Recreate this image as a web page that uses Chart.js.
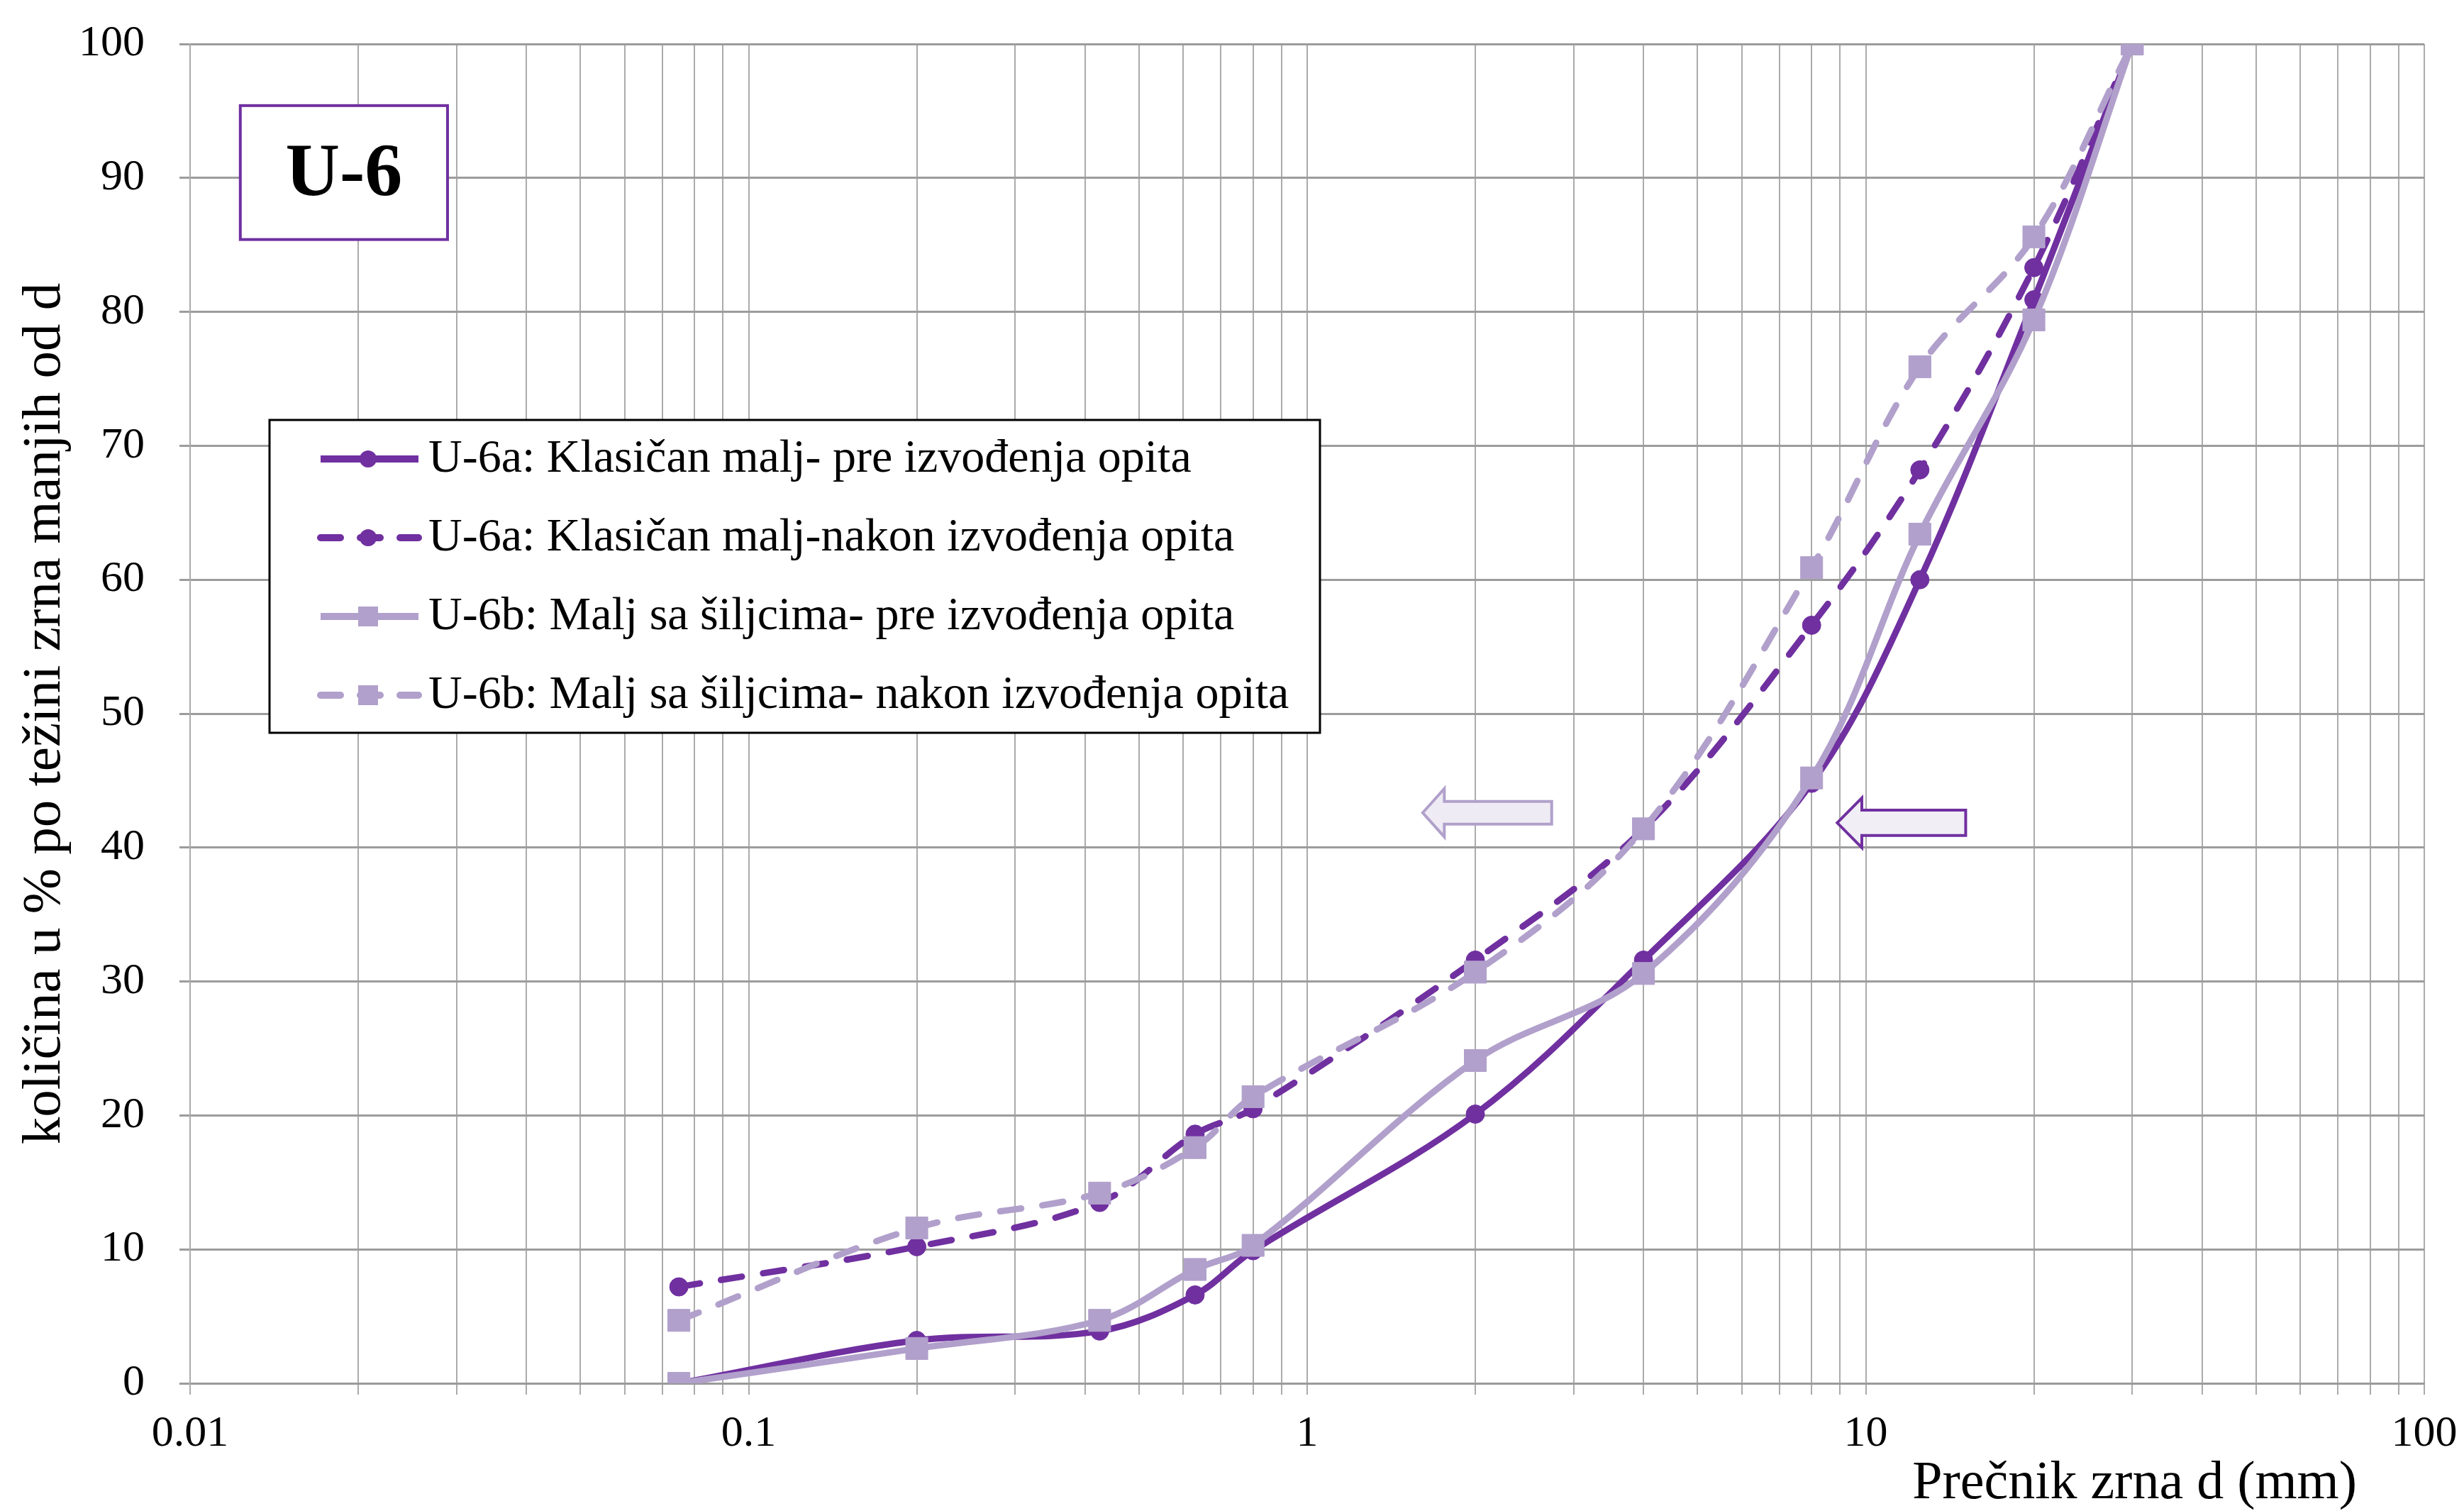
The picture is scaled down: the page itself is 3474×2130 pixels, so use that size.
<!DOCTYPE html>
<html>
<head>
<meta charset="utf-8">
<script src="https://cdn.jsdelivr.net/npm/chart.js@4.4.1/dist/chart.umd.min.js"></script>
<style>
  html, body { margin: 0; padding: 0; background: #ffffff; }
  #wrap { width: 3474px; height: 2130px; position: relative; }
  canvas { display: block; }
</style>
</head>
<body>
<div id="wrap"><canvas id="c" width="3474" height="2130"></canvas></div>
<script>
// ---------- DATA ----------
const sieveSizes = [0.075, 0.2, 0.425, 0.63, 0.8, 2, 4, 8, 12.5, 20, 30];
const seriesLabels = [
  'U-6a: Klasičan malj- pre izvođenja opita',
  'U-6a: Klasičan malj-nakon izvođenja opita',
  'U-6b: Malj sa šiljcima- pre izvođenja opita',
  'U-6b: Malj sa šiljcima- nakon izvođenja opita'
];
const u6aPre  = [0,   3.2, 3.9,  6.6,  9.9,  20.1, 31.6, 44.8, 60.0, 80.9, 100];
const u6aPost = [7.2, 10.2, 13.5, 18.6, 20.5, 31.6, 41.4, 56.6, 68.2, 83.3, 100];
const u6bPre  = [0,   2.6, 4.7,  8.5,  10.3, 24.1, 30.6, 45.2, 63.4, 79.4, 100];
const u6bPost = [4.7, 11.6, 14.2, 17.6, 21.4, 30.7, 41.4, 60.9, 75.9, 85.6, 100];

const xMajorTicks = [0.01, 0.1, 1, 10, 100];
const xTickLabels = ['0.01', '0.1', '1', '10', '100'];
const xMinorMultipliers = [2, 3, 4, 5, 6, 7, 8, 9];
const yTicks = [0, 10, 20, 30, 40, 50, 60, 70, 80, 90, 100];

const boxLabel = 'U-6';
const xTitle = 'Prečnik zrna d (mm)';
const yTitle = 'količina u % po težini zrna manjih od d';

// ---------- STYLE ----------
const FONT = "'Liberation Serif', 'Times New Roman', serif";
const DARK = '#7030A0';
const LIGHT = '#B1A0CB';
const DASH = [30, 30];

// grid values (tick positions for the log axis)
const xGridValues = [];
for (let i = 0; i < xMajorTicks.length; i++) {
  xGridValues.push(xMajorTicks[i]);
  if (i < xMajorTicks.length - 1) {
    xMinorMultipliers.forEach(m => xGridValues.push(Number((m * xMajorTicks[i]).toPrecision(6))));
  }
}

function toPoints(vals) { return sieveSizes.map((x, i) => ({ x: x, y: vals[i] })); }

const datasetStyles = [
  { color: DARK,  dash: [], style: 'circle', radius: 13, order: 1 },
  { color: DARK,  dash: DASH, style: 'circle', radius: 13, order: 1 },
  { color: LIGHT, dash: [], style: 'rect', radius: 22, order: 0 },
  { color: LIGHT, dash: DASH, style: 'rect', radius: 22, order: 0 }
];
const seriesValues = [u6aPre, u6aPost, u6bPre, u6bPost];

const datasets = seriesValues.map((vals, i) => {
  const s = datasetStyles[i];
  return {
    label: seriesLabels[i],
    data: toPoints(vals),
    borderColor: s.color,
    backgroundColor: s.color,
    borderWidth: 9,
    borderDash: s.dash,
    borderCapStyle: s.dash.length ? 'round' : 'butt',
    pointStyle: s.style,
    pointRadius: s.radius,
    pointBorderWidth: 1,
    pointBackgroundColor: s.color,
    pointBorderColor: s.color,
    tension: 0.35,
    fill: false,
    order: s.order
  };
});

// annotations (in data coordinates)
const labelBox = { x0: 0.0123, x1: 0.0289, y0: 95.4, y1: 85.4 };
const arrowNotes = [
  { tip: 1.61, base: 1.76, end: 2.74, y: 42.6, head: 1.8, body: 0.85, stroke: LIGHT, fill: '#EFEBF4' },
  { tip: 8.89, base: 9.84, end: 15.1, y: 41.85, head: 1.85, body: 0.95, stroke: DARK, fill: '#F1EEF6' }
];

const annotationPlugin = {
  id: 'annotations',
  afterDraw(chart) {
    const ctx = chart.ctx;
    const xs = chart.scales.x, ys = chart.scales.y;
    ctx.save();
    // arrows
    arrowNotes.forEach(a => {
      const tx = xs.getPixelForValue(a.tip), bx = xs.getPixelForValue(a.base), ex = xs.getPixelForValue(a.end);
      const cy = ys.getPixelForValue(a.y);
      const hh = ys.getPixelForValue(a.y - a.head) - cy;
      const bh = ys.getPixelForValue(a.y - a.body) - cy;
      ctx.beginPath();
      ctx.moveTo(tx, cy);
      ctx.lineTo(bx, cy - hh);
      ctx.lineTo(bx, cy - bh);
      ctx.lineTo(ex, cy - bh);
      ctx.lineTo(ex, cy + bh);
      ctx.lineTo(bx, cy + bh);
      ctx.lineTo(bx, cy + hh);
      ctx.closePath();
      ctx.fillStyle = a.fill;
      ctx.fill();
      ctx.lineWidth = 4;
      ctx.strokeStyle = a.stroke;
      ctx.lineJoin = 'miter';
      ctx.stroke();
    });
    // U-6 label box
    const bx0 = xs.getPixelForValue(labelBox.x0), bx1 = xs.getPixelForValue(labelBox.x1);
    const by0 = ys.getPixelForValue(labelBox.y0), by1 = ys.getPixelForValue(labelBox.y1);
    ctx.fillStyle = '#ffffff';
    ctx.fillRect(bx0, by0, bx1 - bx0, by1 - by0);
    ctx.lineWidth = 4;
    ctx.strokeStyle = DARK;
    ctx.strokeRect(bx0, by0, bx1 - bx0, by1 - by0);
    ctx.fillStyle = '#000000';
    ctx.font = "bold 106px " + FONT;
    ctx.textAlign = 'center';
    ctx.textBaseline = 'middle';
    ctx.fillText(boxLabel, (bx0 + bx1) / 2, (by0 + by1) / 2 + 4);

    // legend
    const L = { x: 380, y: 592, w: 1481, h: 441 };
    ctx.fillStyle = '#ffffff';
    ctx.fillRect(L.x, L.y, L.w, L.h);
    ctx.lineWidth = 3;
    ctx.strokeStyle = '#000000';
    ctx.strokeRect(L.x, L.y, L.w, L.h);
    chart.data.datasets.forEach((ds, i) => {
      const rowY = L.y + 55 + i * 111;
      const lx0 = 452, lx1 = 590, mx = 519;
      ctx.save();
      ctx.beginPath();
      ctx.setLineDash(ds.borderDash.length ? [28, 28] : []);
      ctx.lineCap = ds.borderDash.length ? 'round' : 'butt';
      ctx.lineWidth = 10;
      ctx.strokeStyle = ds.borderColor;
      ctx.moveTo(lx0, rowY);
      ctx.lineTo(lx1, rowY);
      ctx.stroke();
      ctx.restore();
      ctx.fillStyle = ds.borderColor;
      if (ds.pointStyle === 'circle') {
        ctx.beginPath();
        ctx.arc(mx, rowY, 12, 0, Math.PI * 2);
        ctx.fill();
      } else {
        ctx.fillRect(mx - 14, rowY - 14, 28, 28);
      }
      ctx.fillStyle = '#000000';
      ctx.font = "66px " + FONT;
      ctx.textAlign = 'left';
      ctx.textBaseline = 'middle';
      ctx.fillText(ds.label, 604, rowY + 1);
    });
    ctx.restore();
  }
};

new Chart(document.getElementById('c'), {
  type: 'line',
  data: { datasets: datasets },
  options: {
    responsive: false,
    animation: false,
    devicePixelRatio: 1,
    layout: { padding: { left: 0, right: 56, top: 62, bottom: 0 } },
    plugins: {
      legend: { display: false },
      tooltip: { enabled: false }
    },
    scales: {
      x: {
        type: 'logarithmic',
        position: 'bottom',
        min: 0.01,
        max: 100,
        afterBuildTicks: (s) => { s.ticks = xGridValues.map(v => ({ value: v, major: xMajorTicks.includes(v) })); },
        afterFit: (s) => { s.height = 180; s.paddingLeft = 30; s.paddingRight = 30; },
        ticks: {
          autoSkip: false, maxRotation: 0, minRotation: 0, padding: 19,
          color: '#000000', font: { family: FONT, size: 62 },
          callback: (v) => { const i = xMajorTicks.indexOf(v); return i >= 0 ? xTickLabels[i] : ''; }
        },
        grid: { color: '#ababab', lineWidth: 2, tickLength: 16, drawTicks: true },
        border: { color: '#9a9a9a', width: 3 },
        title: {
          display: true, text: xTitle + '     ', align: 'end', color: '#000000',
          font: { family: FONT, size: 76, lineHeight: 1 }, padding: { top: 0, bottom: 0 }
        }
      },
      y: {
        min: 0,
        max: 100,
        afterBuildTicks: (s) => { s.ticks = yTicks.map(v => ({ value: v })); },
        afterFit: (s) => { s.width = 268; s.paddingTop = 30; s.paddingBottom = 30; },
        ticks: { padding: 49, color: '#000000', font: { family: FONT, size: 62 } },
        grid: { color: '#9c9c9c', lineWidth: 3, tickLength: 15, drawTicks: true },
        border: { color: '#ababab', width: 2 },
        title: {
          display: true, text: yTitle, color: '#000000',
          font: { family: FONT, size: 77, lineHeight: 1 }, padding: { top: 25, bottom: 0 }
        }
      }
    }
  },
  plugins: [annotationPlugin]
});
</script>
</body>
</html>
